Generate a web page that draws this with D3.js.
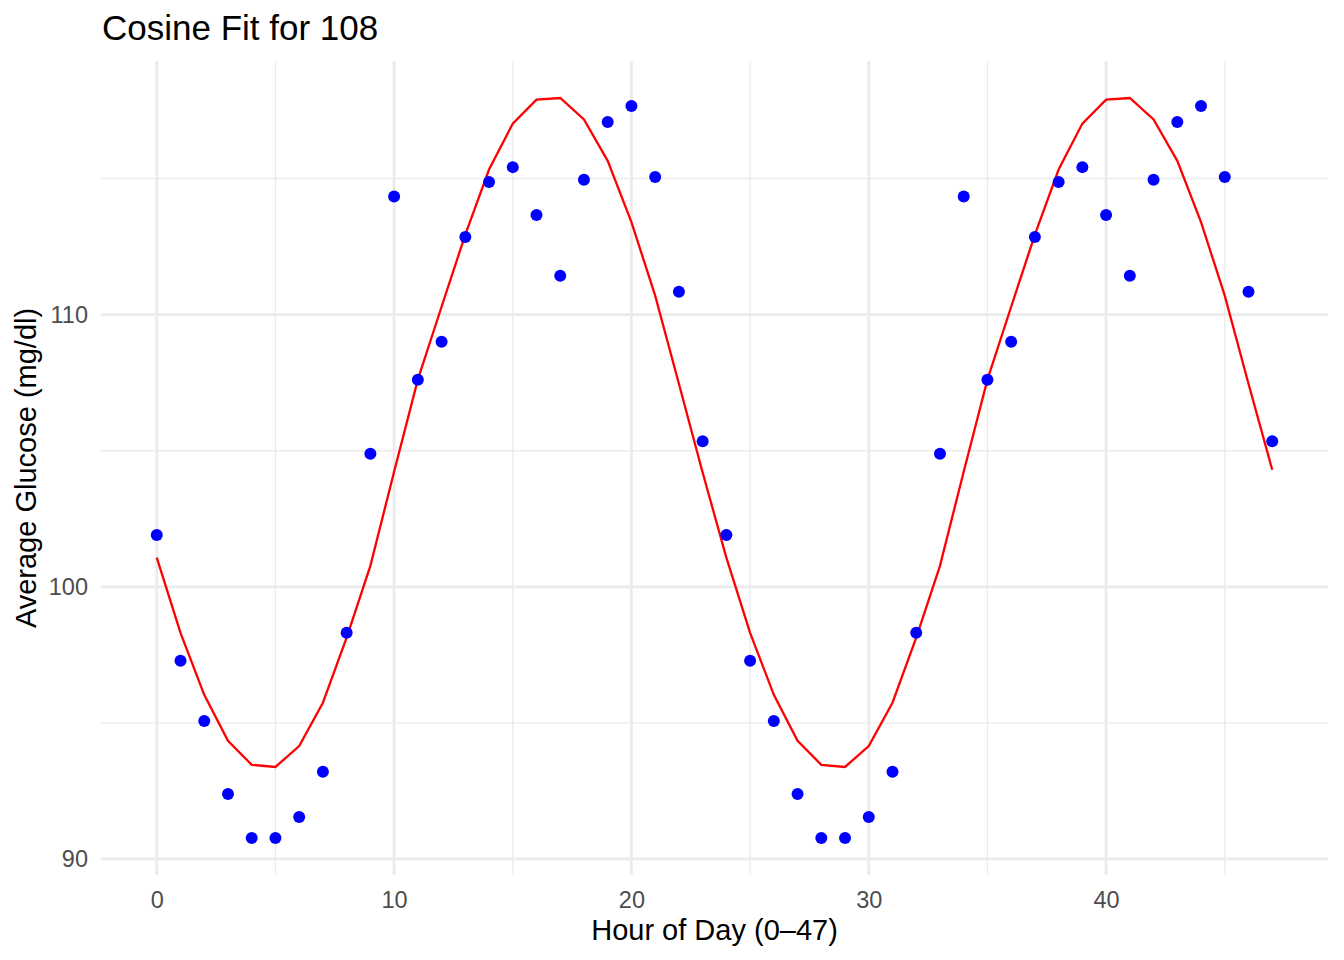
<!DOCTYPE html>
<html>
<head>
<meta charset="utf-8">
<script src="https://cdn.jsdelivr.net/npm/d3@7"></script>
<style>
  body { margin: 0; background: #fff; }
  svg text { font-family: "Liberation Sans", Arial, Helvetica, sans-serif; }
</style>
</head>
<body>
<script>
// Chart size
let width = 1344;
let height = 960;

// Hours 0..47
let hours = d3.range(0, 48);

let glucose = [
  101.9, 97.28, 95.07, 92.39, 90.77, 90.77, 91.54, 93.2, 98.31, 104.89, 114.34, 107.61,
  109.0, 112.85, 114.87, 115.42, 113.66, 111.43, 114.96, 117.08, 117.67, 115.06, 110.84, 105.35,
  101.9, 97.28, 95.07, 92.39, 90.77, 90.77, 91.54, 93.2, 98.31, 104.89, 114.34, 107.61,
  109.0, 112.85, 114.87, 115.42, 113.66, 111.43, 114.96, 117.08, 117.67, 115.06, 110.84, 105.35
];

// Cosine fit values per hour
let fitted = [
  101.07, 98.31, 96.03, 94.34, 93.46, 93.38, 94.15, 95.74, 98.13, 100.77, 104.23, 107.61,
  110.29, 112.94, 115.33, 117.02, 117.9, 117.96, 117.17, 115.65, 113.4, 110.7, 107.46, 104.2,
  101.07, 98.31, 96.03, 94.34, 93.46, 93.38, 94.15, 95.74, 98.13, 100.77, 104.23, 107.61,
  110.29, 112.94, 115.33, 117.02, 117.9, 117.96, 117.17, 115.65, 113.4, 110.7, 107.46, 104.3
];

let xTicks = [0, 10, 20, 30, 40];
let xMinor = [5, 15, 25, 35, 45];
let yTicks = [90, 100, 110];
let yMinor = [95, 105, 115];

// Panel box (ggplot theme_minimal look)
let margin = { top: 61, right: 16, bottom: 85, left: 101 };
let panelW = width - margin.left - margin.right;
let panelH = height - margin.top - margin.bottom;

// 5% expansion like ggplot
let xExt = d3.extent(hours);
let xPad = (xExt[1] - xExt[0]) * 0.05;
let yExt = d3.extent(glucose.concat(fitted));
let yPad = (yExt[1] - yExt[0]) * 0.05;

let x = d3.scaleLinear()
  .domain([xExt[0] - xPad, xExt[1] + xPad])
  .range([0, panelW]);

let y = d3.scaleLinear()
  .domain([yExt[0] - yPad, yExt[1] + yPad])
  .range([panelH, 0]);

let svg = d3.select('body').append('svg')
  .attr('width', width)
  .attr('height', height);

let g = svg.append('g')
  .attr('transform', `translate(${margin.left},${margin.top})`);

// Minor grid
g.selectAll('.xminor').data(xMinor).enter().append('line')
  .attr('x1', d => x(d)).attr('x2', d => x(d))
  .attr('y1', 0).attr('y2', panelH)
  .attr('stroke', '#EBEBEB').attr('stroke-width', 1.4);
g.selectAll('.yminor').data(yMinor).enter().append('line')
  .attr('y1', d => y(d)).attr('y2', d => y(d))
  .attr('x1', 0).attr('x2', panelW)
  .attr('stroke', '#EBEBEB').attr('stroke-width', 1.4);

// Major grid
g.selectAll('.xmajor').data(xTicks).enter().append('line')
  .attr('x1', d => x(d)).attr('x2', d => x(d))
  .attr('y1', 0).attr('y2', panelH)
  .attr('stroke', '#EBEBEB').attr('stroke-width', 2.8);
g.selectAll('.ymajor').data(yTicks).enter().append('line')
  .attr('y1', d => y(d)).attr('y2', d => y(d))
  .attr('x1', 0).attr('x2', panelW)
  .attr('stroke', '#EBEBEB').attr('stroke-width', 2.8);

// Axes (labels only, no domain/ticks)
let xAxis = g.append('g')
  .attr('transform', `translate(0,${panelH})`)
  .call(d3.axisBottom(x).tickValues(xTicks).tickSize(0).tickPadding(16));
let yAxis = g.append('g')
  .call(d3.axisLeft(y).tickValues(yTicks).tickSize(0).tickPadding(13));
[xAxis, yAxis].forEach(a => {
  a.select('.domain').remove();
  a.selectAll('text')
    .attr('fill', '#4D4D4D')
    .style('font-size', '23.5px')
    .style('font-family', '"Liberation Sans", Arial, sans-serif');
});

// Fitted cosine line
let line = d3.line()
  .x((d, i) => x(hours[i]))
  .y(d => y(d));
g.append('path')
  .datum(fitted)
  .attr('d', line)
  .attr('fill', 'none')
  .attr('stroke', '#FF0000')
  .attr('stroke-width', 2.3);

// Observed points
g.selectAll('.pt').data(glucose).enter().append('circle')
  .attr('cx', (d, i) => x(hours[i]))
  .attr('cy', d => y(d))
  .attr('r', 6)
  .attr('fill', '#0000FF');

// Titles
svg.append('text')
  .attr('x', 102).attr('y', 40)
  .style('font-size', '35px')
  .attr('fill', '#000')
  .text('Cosine Fit for 108');

svg.append('text')
  .attr('x', margin.left + panelW / 2).attr('y', 940)
  .attr('text-anchor', 'middle')
  .style('font-size', '29px')
  .attr('fill', '#000')
  .text('Hour of Day (0–47)');

svg.append('text')
  .attr('transform', `translate(36,${margin.top + panelH / 2}) rotate(-90)`)
  .attr('text-anchor', 'middle')
  .style('font-size', '29px')
  .attr('fill', '#000')
  .text('Average Glucose (mg/dl)');
</script>
</body>
</html>
